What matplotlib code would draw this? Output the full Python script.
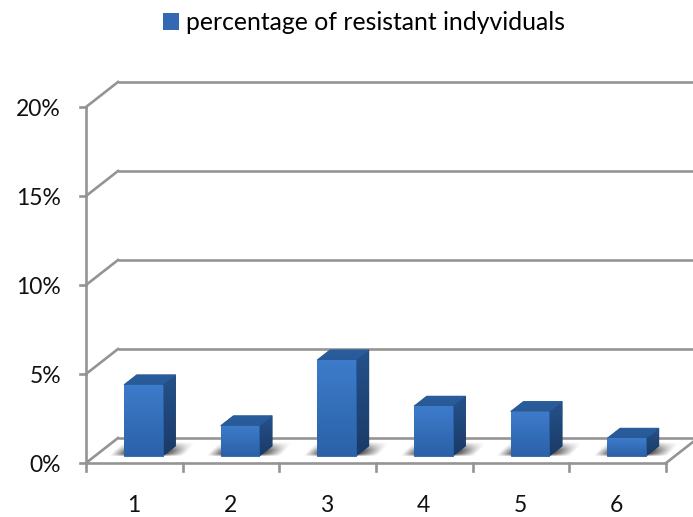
import numpy as np
import matplotlib
matplotlib.use("Agg")
import matplotlib.pyplot as plt
from matplotlib.colors import to_rgb
from matplotlib.patches import Patch, Polygon

categories = ["1", "2", "3", "4", "5", "6"]
values = [4.0, 1.7, 5.4, 2.8, 2.5, 1.0]
y_ticks = [0, 5, 10, 15, 20]
series_name = "percentage of resistant indyviduals"

# pixel scale of the plot box
X0, Y0 = 86, 463
X_UNIT, Y_UNIT = 96.67, 17.8
W, H = 693, 517

# oblique offset of the back wall, in data units
DX = 32 / X_UNIT
DY = 25 / Y_UNIT
BAR_W = 0.40
BAR_FRONT = 0.28
BAR_DEPTH = 0.40

GRID = "#949494"
LW = 1.9

plt.rcParams["font.family"] = ["Lato", "DejaVu Sans"]


def gradient_poly(ax, verts, top, bottom, zorder):
    xs, ys = zip(*verts)
    # solid backing so no white seam shows between the faces
    ax.add_patch(Polygon(verts, closed=True, fc=bottom, ec=bottom, lw=0.6,
                         zorder=zorder))
    c = np.linspace(0, 1, 64)[:, None, None]
    img = (1 - c) * np.array(to_rgb(top)) + c * np.array(to_rgb(bottom))
    im = ax.imshow(img, extent=(min(xs), max(xs), min(ys), max(ys)),
                   aspect="auto", origin="upper", zorder=zorder,
                   interpolation="bilinear")
    clip = Polygon(verts, closed=True, transform=ax.transData,
                   fc="none", ec="none")
    ax.add_patch(clip)
    im.set_clip_path(clip)


def floor_shadow(ax, x0, x1, y_front, zorder):
    # soft parallelogram shadow lying on the floor behind the bar
    depth = 14 / Y_UNIT
    left, right = x0 - 0.16, x1 + 0.36
    bottom, top = y_front, y_front + depth
    yy, xx = np.mgrid[top:bottom:60j, left:right:120j]
    t = (yy - bottom) / depth
    u = (xx - x0 - t * 0.14) / (x1 - x0)
    fade_x = np.clip(np.minimum((u + 0.38) / 0.38, (1.55 - u) / 0.5), 0, 1)
    fade_y = np.clip(np.minimum((t + 0.05) / 0.2, (1 - t) / 0.6), 0, 1)
    rgba = np.zeros(xx.shape + (4,))
    rgba[..., :3] = 0.22
    rgba[..., 3] = 0.85 * fade_x * fade_y
    ax.imshow(rgba, extent=(left, right, bottom, top), aspect="auto",
              origin="upper", zorder=zorder, interpolation="bilinear")


fig = plt.figure(figsize=(W / 100, H / 100), dpi=100)
ax = fig.add_axes([0, 0, 1, 1])

# grid: back wall, left wall diagonals
for v in y_ticks:
    ax.plot([DX, (W - X0) / X_UNIT], [v + DY, v + DY], color=GRID, lw=LW,
            solid_capstyle="butt", zorder=1)
    ax.plot([0, DX], [v, v + DY], color=GRID, lw=LW, zorder=1)
    ax.plot([-6 / X_UNIT, 0], [v, v], color=GRID, lw=LW, zorder=1)
    ax.text(-25 / X_UNIT, v - 2.5 / Y_UNIT, f"{v}%", ha="right", va="center",
            fontsize=16.5, color="#111111")

# front axes
n = len(categories)
ax.plot([0, 0], [0, y_ticks[-1]], color=GRID, lw=LW, zorder=1)
ax.plot([0, n], [0, 0], color=GRID, lw=LW, zorder=1)
ax.plot([n, n + DX], [0, DY], color=GRID, lw=LW, zorder=1)
for i in range(n + 1):
    ax.plot([i, i], [0, -8 / Y_UNIT], color=GRID, lw=LW, zorder=1)

# bars
for i, (cat, val) in enumerate(zip(categories, values)):
    ax.text(i + 0.49, -49 / Y_UNIT, cat, ha="center", va="baseline",
            fontsize=16.5, color="#111111")
    x0 = i + 0.5 + BAR_FRONT * DX - BAR_W / 2
    x1 = x0 + BAR_W
    yb = BAR_FRONT * DY
    yt = yb + val
    ox, oy = BAR_DEPTH * DX, BAR_DEPTH * DY
    floor_shadow(ax, x0, x1, yb, 2)
    gradient_poly(ax, [(x1, yb), (x1 + ox, yb + oy), (x1 + ox, yt + oy), (x1, yt)],
                  "#25528c", "#1a3a66", 3)
    gradient_poly(ax, [(x0, yt), (x1, yt), (x1 + ox, yt + oy), (x0 + ox, yt + oy)],
                  "#2a5d9c", "#295a98", 3)
    gradient_poly(ax, [(x0, yb), (x1, yb), (x1, yt), (x0, yt)],
                  "#3d7ccb", "#2b61a8", 4)

ax.legend(handles=[Patch(facecolor="#3269b2", edgecolor="none", label=series_name)],
          loc="upper center", bbox_to_anchor=(364 / W, 1 - 6 / H), frameon=False,
          fontsize=17.8, handlelength=0.66, handleheight=0.66, handletextpad=0.3,
          borderaxespad=0, borderpad=0.2)

ax.set_xlim(-X0 / X_UNIT, (W - X0) / X_UNIT)
ax.set_ylim((Y0 - H) / Y_UNIT, Y0 / Y_UNIT)
ax.axis("off")

fig.savefig("out.png", dpi=100)
plt.close(fig)
